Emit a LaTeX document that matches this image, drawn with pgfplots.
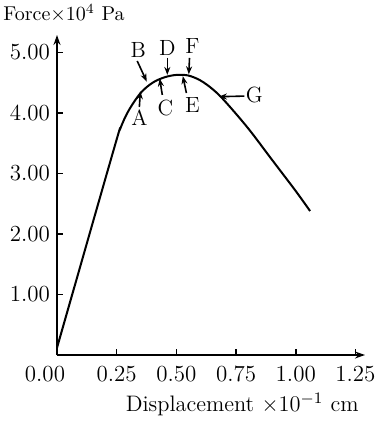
\documentclass[border=0pt]{standalone}
\usepackage{pgfplots}
\pgfplotsset{compat=1.18}
\usetikzlibrary{arrows.meta}
\begin{document}
\begin{tikzpicture}
\begin{axis}[
  scale only axis,
  width=154pt, height=160pt,
  xmin=0, xmax=1.29, ymin=0, ymax=5.29,
  axis lines=left,
  axis line style={line width=0.8pt, -{Stealth[length=5pt,width=3.5pt]}},
  xtick={0,0.25,0.5,0.75,1,1.25},
  xticklabels={\hspace*{-12pt}0.00,0.25,0.50,0.75,1.00,1.25},
  ytick={1,2,3,4,5},
  yticklabels={1.00,2.00,3.00,4.00,5.00},
  tick align=inside,
  major tick length=3pt,
  tick style={line width=0.8pt, black},
  ticklabel style={font=\fontsize{11.5}{13}\selectfont},
  xticklabel style={yshift=-2pt},
  clip=false,
]
\addplot[line width=1pt, smooth, tension=0.55] coordinates {
(0,0.12) (0.235,3.36) (0.265,3.74) (0.30,4.04) (0.35,4.33) (0.40,4.50)
(0.45,4.59) (0.50,4.63) (0.55,4.62) (0.60,4.54) (0.65,4.40) (0.70,4.21)
(0.80,3.75) (0.90,3.23) (1.00,2.71) (1.06,2.38)
};
\tikzset{lab/.style={font=\fontsize{11}{13}\selectfont, inner sep=1pt}, arr/.style={line width=0.8pt, -{Stealth[length=4pt,width=3pt]}}}
\draw[arr] (axis cs:0.345,4.10) -- (axis cs:0.349,4.36);
\node[lab] at (axis cs:0.345,3.93) {A};
\draw[arr] (axis cs:0.336,4.86) -- (axis cs:0.376,4.52);
\node[lab] at (axis cs:0.34,5.05) {B};
\draw[arr] (axis cs:0.441,4.30) -- (axis cs:0.430,4.57);
\node[lab] at (axis cs:0.454,4.08) {C};
\draw[arr] (axis cs:0.462,4.91) -- (axis cs:0.462,4.63);
\node[lab] at (axis cs:0.462,5.08) {D};
\draw[arr] (axis cs:0.542,4.33) -- (axis cs:0.527,4.61);
\node[lab] at (axis cs:0.567,4.13) {E};
\draw[arr] (axis cs:0.555,4.91) -- (axis cs:0.552,4.64);
\node[lab] at (axis cs:0.567,5.10) {F};
\draw[arr] (axis cs:0.785,4.28) -- (axis cs:0.678,4.27);
\node[lab] at (axis cs:0.826,4.30) {G};
\node[anchor=base west, inner sep=0pt] at ([xshift=-27pt,yshift=7pt]rel axis cs:0,1) {Force$\times$10$^4$ Pa};
\node[anchor=north east, inner sep=0pt, font=\fontsize{11.2}{13}\selectfont] at ([xshift=-3pt,yshift=-19pt]rel axis cs:1,0) {Displacement $\times$10$^{-1}$ cm};
\path (axis cs:0,0) ++(-28.5pt,-34pt) rectangle ++(187pt,211.5pt);
\end{axis}
\end{tikzpicture}
\end{document}
